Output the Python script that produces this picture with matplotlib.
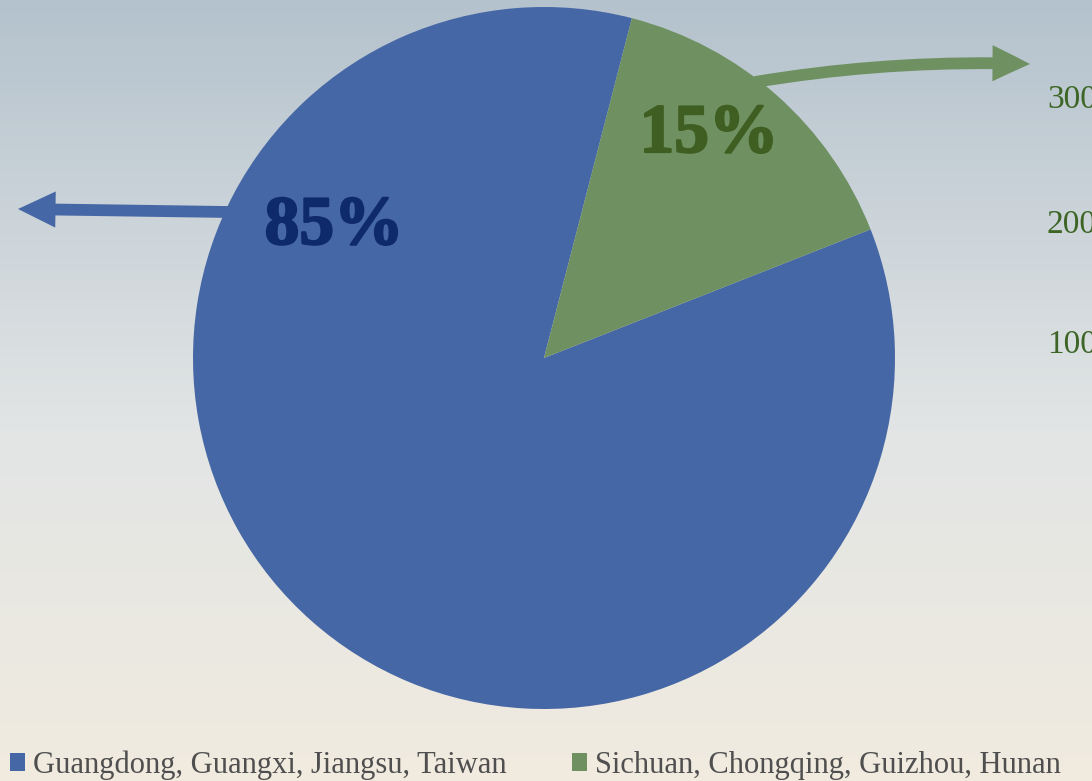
import numpy as np
import matplotlib
matplotlib.use("Agg")
import matplotlib.pyplot as plt
import matplotlib.patheffects as pe
from matplotlib.patches import FancyArrowPatch, Patch

plt.rcParams['font.family'] = ['Liberation Serif', 'DejaVu Serif']

# share of the two region groups
regions = ['Guangdong, Guangxi, Jiangsu, Taiwan', 'Sichuan, Chongqing, Guizhou, Hunan']
shares = [85, 15]
colors = ['#4667a5', '#6f9162']
label_colors = ['#0f2a6a', '#3f5f22']
# tick labels of the neighbouring axis, cut by the right edge
side_ticks = ['300', '200', '100']

W, H = 1092, 781
fig = plt.figure(figsize=(W / 100, H / 100), dpi=100)

# sky background: blue-grey on top, warm beige near the bottom
bg = fig.add_axes([0, 0, 1, 1], zorder=-1)
t = np.linspace(0, 1, 400)[:, None]
top = np.array([180, 194, 205]) / 255
mid = np.array([226, 229, 229]) / 255
bot = np.array([241, 235, 223]) / 255
grad = np.where(t < 0.55, top + (mid - top) * (t / 0.55),
                mid + (bot - mid) * ((t - 0.55) / 0.45))
bg.imshow(grad[:, None, :].repeat(2, axis=1), aspect='auto', extent=[0, 1, 0, 1])
bg.axis('off')

# pie
cx, cy, r = 544, 358, 351
ax = fig.add_axes([(cx - r) / W, (H - cy - r) / H, 2 * r / W, 2 * r / H])
wedges, _ = ax.pie(shares, colors=colors, startangle=21.5, counterclock=False,
                   radius=1, wedgeprops=dict(linewidth=0))
ax.set_xlim(-1, 1)
ax.set_ylim(-1, 1)
ax.set_aspect('equal')
ax.axis('off')

# overlay in pixel coordinates for labels and arrows
ov = fig.add_axes([0, 0, 1, 1], zorder=3)
ov.set_xlim(0, W)
ov.set_ylim(H, 0)
ov.axis('off')

for share, col, (x, y) in zip(shares, label_colors, [(334, 227), (709, 135)]):
    ov.text(x, y, f'{share}%', fontsize=50, fontweight='bold', color=col,
            ha='center', va='center',
            path_effects=[pe.withStroke(linewidth=1.6, foreground=col)])

arrow = 'simple,head_width=26,head_length=27,tail_width=8.5'
ov.add_patch(FancyArrowPatch((228, 212), (18, 209), arrowstyle=arrow,
                             color=colors[0], linewidth=0, mutation_scale=1,
                             shrinkA=0, shrinkB=0))
ov.add_patch(FancyArrowPatch((755, 82), (1030, 64),
                             connectionstyle='arc3,rad=-0.05', arrowstyle=arrow,
                             color=colors[1], linewidth=0, mutation_scale=1,
                             shrinkA=0, shrinkB=0))

for lab, yy in zip(side_ticks, [100, 225, 345]):
    ov.text(1047, yy, lab, fontsize=24, color='#3d6525', ha='left', va='center',
            clip_on=False)

handles = [Patch(facecolor=c, edgecolor='none') for c in colors]
fig.legend(handles, regions, loc='lower left', bbox_to_anchor=(-0.008, -0.022),
           ncol=2, frameon=False, fontsize=22, labelcolor='#4f4f4f',
           handlelength=0.5, handleheight=0.5, handletextpad=0.25,
           columnspacing=2.15, borderaxespad=0.2)

fig.savefig('out.png', dpi=100)
